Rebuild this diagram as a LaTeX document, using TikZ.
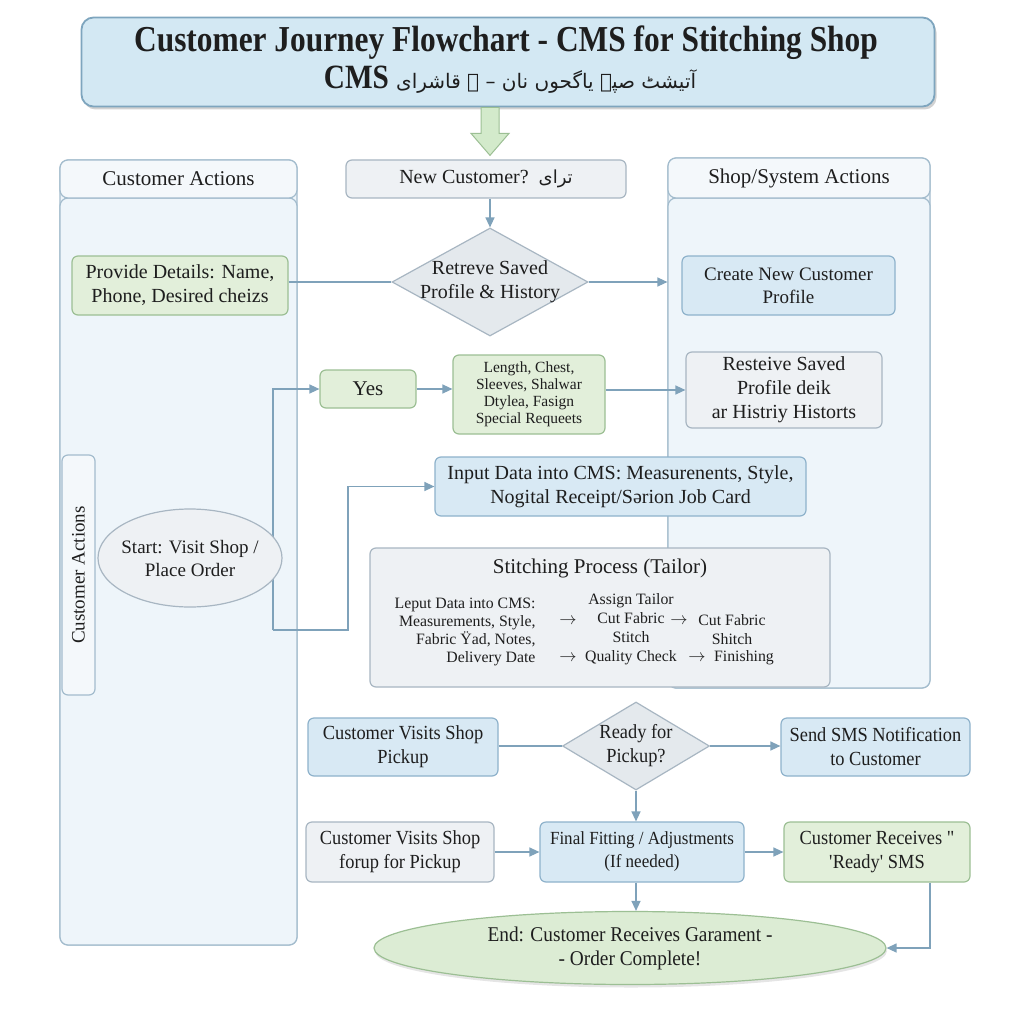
\documentclass[tikz,border=0pt]{standalone}
\usepackage{fontspec}
\setmainfont{Liberation Serif}
\newfontfamily\titlefont{Liberation Serif}[FakeStretch=0.86]
\newfontfamily\condfont{Liberation Serif}[FakeStretch=0.92]
\newfontfamily\urdu[Script=Arabic]{DejaVu Sans}
\TeXXeTstate=1
\usetikzlibrary{shapes.geometric,arrows.meta,shadows}
\definecolor{lanefill}{HTML}{EEF5FA}
\definecolor{laneborder}{HTML}{A3BCCD}
\definecolor{headfill}{HTML}{F4F8FB}
\definecolor{greenfill}{HTML}{E2EFDA}
\definecolor{greenborder}{HTML}{9CBF94}
\definecolor{bluefill}{HTML}{D8E9F4}
\definecolor{blueborder}{HTML}{8EB2CB}
\definecolor{grayfill}{HTML}{EEF1F4}
\definecolor{grayborder}{HTML}{A8B6C2}
\definecolor{diafill}{HTML}{E4E9ED}
\definecolor{arrowcol}{HTML}{7FA2BA}
\definecolor{titlefill}{HTML}{D3E8F3}
\definecolor{titleborder}{HTML}{7EA5BE}
\definecolor{endfill}{HTML}{DCECD4}
\definecolor{blockfill}{HTML}{D3EACB}
\definecolor{txt}{HTML}{1E1E1E}
\tikzset{
  base/.style={rounded corners=6pt, line width=1.2pt, inner sep=2pt, align=center, text=txt,
    font=\fontsize{20}{24}\selectfont},
  greenbox/.style={base, fill=greenfill, draw=greenborder},
  bluebox/.style={base, fill=bluefill, draw=blueborder},
  graybox/.style={base, fill=grayfill, draw=grayborder},
  lanebox/.style={rounded corners=8pt, line width=1.2pt, fill=lanefill, draw=laneborder},
  headbox/.style={rounded corners=8pt, line width=1.2pt, fill=headfill, draw=laneborder, text=txt,
    font=\fontsize{21}{24}\selectfont},
  dia/.style={diamond, line width=1.2pt, fill=diafill, draw=grayborder, inner sep=0pt},
  conn/.style={line width=1.3pt, draw=arrowcol},
  arr/.style={conn, -{Triangle[width=9pt,length=10pt]}, arrowcol},
  lbl/.style={align=center, text=txt, font=\fontsize{20}{24}\selectfont},
  lower/.style={font=\condfont\fontsize{20}{24}\selectfont},
  small/.style={align=center, text=txt, font=\fontsize{15.8}{18}\selectfont}
}
\begin{document}
\begin{tikzpicture}[x=1pt,y=-1pt]
\useasboundingbox (0,0) rectangle (1024,1024);
\fill[white] (0,0) rectangle (1024,1024);

% title
\node[rounded corners=12pt, line width=1.8pt, fill=titlefill, draw=titleborder,
  minimum width=853pt, minimum height=89pt, drop shadow={opacity=0.35, shadow xshift=2pt, shadow yshift=-3pt}]
  (title) at (508,62) {};
\node[text=txt, font=\titlefont\bfseries\fontsize{36.5}{40}\selectfont] (t1) at (506,43)
  {Customer Journey Flowchart - CMS for Stitching Shop};
\node[text=txt, font=\titlefont\bfseries\fontsize{34}{40}\selectfont] (t2) at (510,80)
  {CMS {\urdu\mdseries\fontsize{20}{30}\selectfont\beginR آتیشٹ صپے یاگحوں نان – ے قاشرای\endR}};

% green block arrow
\coordinate (ab) at ([xshift=-18pt]title.south);
\draw[line width=1pt, draw=greenborder, fill=blockfill]
  (ab) ++(-9,0) -- ++(0,26) -- ++(-10,0) -- ++(19,22) -- ++(19,-22) -- ++(-10,0) -- ++(0,-26) -- cycle;

% lanes
\node[lanebox, minimum width=237pt, minimum height=785pt] (llane) at (178.5,552.5) {};
\node[lanebox, minimum width=237pt, minimum height=747pt] (lbody) at (178.5,571.5) {};
\node[headbox, minimum width=237pt, minimum height=38pt] (lhead) at (178.5,179) {Customer Actions};
\node[lanebox, minimum width=262pt, minimum height=530pt] (rlane) at (799,423) {};
\node[lanebox, minimum width=262pt, minimum height=490pt] (rbody) at (799,443) {};
\node[headbox, minimum width=262pt, minimum height=40pt] (rhead) at (799,178) {Shop/System Actions};

% vertical label box
\node[rounded corners=6pt, line width=1.2pt, fill=headfill, draw=laneborder,
  minimum width=33pt, minimum height=240pt] (vbox) at (78.5,575) {};
\node[rotate=90, text=txt, font=\fontsize{19}{22}\selectfont] (vtext) at (vbox) {Customer Actions};

% top middle
\node[graybox, minimum width=280pt, minimum height=38pt] (newc) at (486,179)
  {New Customer?\ \ {\urdu\fontsize{18}{20}\selectfont\beginR ترای\endR}};
\node[dia, minimum width=196pt, minimum height=108pt] (d1) at (490,282) {};
\node[lbl] (d1t) at (d1) {Retreve Saved\\Profile \& History};

\node[greenbox, minimum width=216pt, minimum height=59pt] (provide) at (180,285.5)
  {Provide Details: Name,\\Phone, Desired cheizs};
\node[bluebox, minimum width=213pt, minimum height=59pt, font=\fontsize{19}{23}\selectfont] (create) at (788.5,285.5)
  {Create New Customer\\Profile};

\node[greenbox, minimum width=96pt, minimum height=38pt, font=\fontsize{21}{24}\selectfont] (yes) at (368,389) {Yes};
\node[greenbox, minimum width=152pt, minimum height=79pt, font=\fontsize{15.5}{17}\selectfont] (length) at (529,394.5)
  {Length, Chest,\\Sleeves, Shalwar\\Dtylea, Fasign\\Special Requeets};
\node[graybox, minimum width=196pt, minimum height=76pt] (resteive) at (784,390)
  {Resteive Saved\\Profile deik\\ar Histriy Historts};

\node[bluebox, minimum width=371pt, minimum height=59pt] (input) at (620.5,486.5)
  {Input Data into CMS: Measurenents, Style,\\Nogital Receipt/Sərion Job Card};

% connectors from start (drawn under the ellipse)
\coordinate (j1) at (273,630);
\draw[arr] (j1) |- (yes.west);
\draw[arr] (j1) -- (348,630) |- (input.west);

\node[ellipse, line width=1.2pt, fill=grayfill, draw=grayborder, minimum width=184pt, minimum height=98pt,
  inner sep=0pt] (start) at (190,558) {};
\node[lbl, font=\fontsize{19}{23}\selectfont] (startt) at (start) {Start: Visit Shop /\\Place Order};

% stitching process
\node[graybox, minimum width=460pt, minimum height=139pt] (stitch) at (600,617.5) {};
\node[lbl, font=\fontsize{21}{24}\selectfont] (sttitle) at (600,568) {Stitching Process (Tailor)};
\node[small, align=right, anchor=east] (scol1) at (539,632)
  {Leput Data into CMS:\\Measurements, Style,\\Fabric Ÿad, Notes,\\Delivery Date};
\node[small, font=\fontsize{15.8}{19}\selectfont] (scol2) at (631,629)
  {Assign Tailor\\Cut Fabric\\Stitch\\Quality Check};
\node[small, font=\fontsize{15.8}{19}\selectfont] (scol3) at (732,630)
  {Cut Fabric\\Shitch};
\node[small] (scol4) at (744,658) {Finishing};
\node[small, font=\fontsize{19}{19}\selectfont] (sa1) at (568,621) {$\rightarrow$};
\node[small, font=\fontsize{19}{19}\selectfont] (sa2) at (568,658) {$\rightarrow$};
\node[small, font=\fontsize{19}{19}\selectfont] (sa3) at (679,621) {$\rightarrow$};
\node[small, font=\fontsize{17}{19}\selectfont] (sa4) at (697,658) {$\rightarrow$};

% lower part
\node[bluebox, lower, minimum width=190pt, minimum height=58pt] (cvs1) at (403,747)
  {Customer Visits Shop\\Pickup};
\node[dia, minimum width=147pt, minimum height=88pt] (d2) at (636,746) {};
\node[lbl, lower] (d2t) at (d2) {Ready for\\Pickup?};
\node[bluebox, lower, minimum width=189pt, minimum height=58pt] (sms) at (875.5,747)
  {Send SMS Notification\\to Customer};
\node[graybox, lower, minimum width=188pt, minimum height=60pt] (cvs2) at (400,852)
  {Customer Visits Shop\\forup for Pickup};
\node[bluebox, minimum width=204pt, minimum height=60pt, font=\condfont\fontsize{18.5}{23}\selectfont] (final) at (642,852)
  {Final Fitting / Adjustments\\(If needed)};
\node[greenbox, lower, minimum width=186pt, minimum height=60pt] (recv) at (877,852)
  {Customer Receives \symbol{34}\\\textquotesingle Ready\textquotesingle{} SMS};
\node[ellipse, line width=1.2pt, fill=endfill, draw=greenborder, minimum width=512pt, minimum height=73pt,
  inner sep=0pt, drop shadow={opacity=0.2, shadow xshift=1pt, shadow yshift=-3pt}] (endn) at (630,948) {};
\node[lbl, lower, font=\condfont\fontsize{21}{24}\selectfont] (endt) at (endn) {End: Customer Receives Garament -\\- Order Complete!};

% connectors
\draw[arr] (newc.south -| d1.north) -- (d1.north);
\draw[conn] (provide.east |- d1.west) -- (d1.west);
\draw[arr, shorten >=14pt] (d1.east) -- (create.west |- d1.east);
\draw[arr] (yes.east) -- (length.west |- yes.east);
\draw[arr] (length.east |- resteive.west) -- (resteive.west);
\draw[conn] (cvs1.east |- d2.west) -- (d2.west);
\draw[arr] (d2.east) -- (sms.west |- d2.east);
\draw[arr] (d2.south) -- (d2.south |- final.north);
\draw[arr] (cvs2.east) -- (final.west);
\draw[arr] (final.east) -- (recv.west);
\draw[arr] (final.south -| d2.south) -- (endn.north -| d2.south);
\draw[arr] ([xshift=53pt]recv.south) |- (endn.east);
\end{tikzpicture}
\end{document}
